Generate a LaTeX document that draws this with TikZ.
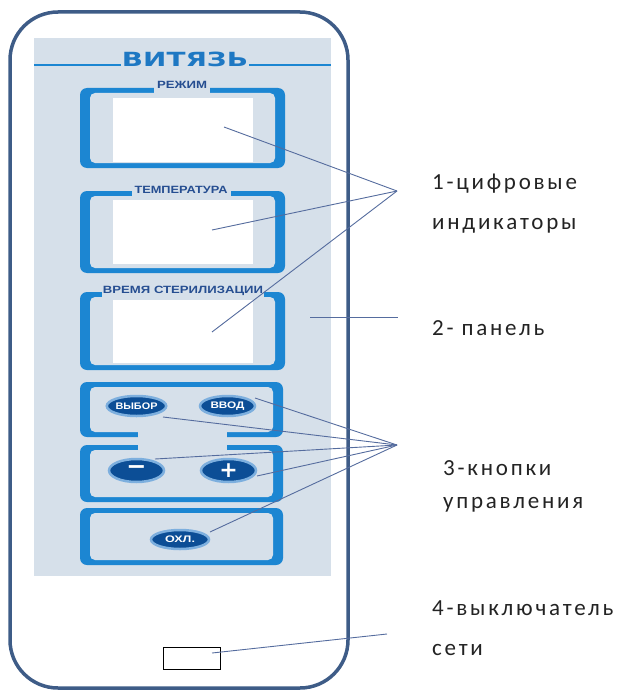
\documentclass[tikz,border=0pt]{standalone}
\usepackage{fontspec}
\usepackage{graphicx}
\usetikzlibrary{shapes.geometric}
\setmainfont{Carlito}
\newfontfamily\lblfont[LetterSpace=12]{Carlito}
\newfontfamily\boldsans{DejaVu Sans}
\newfontfamily\arialb{Liberation Sans}
\definecolor{outerc}{RGB}{62,92,135}
\definecolor{panelc}{RGB}{214,224,234}
\definecolor{fblue}{RGB}{28,134,210}
\definecolor{titlec}{RGB}{30,120,195}
\definecolor{capc}{RGB}{38,78,145}
\definecolor{btnc}{RGB}{12,78,150}
\definecolor{haloc}{RGB}{125,175,222}
\definecolor{leadc}{RGB}{85,108,158}
\definecolor{txtc}{RGB}{35,35,35}
\newcommand\panelframe[4]{%
  \fill[fblue, rounded corners=7pt] (#1,#2) rectangle (#3,#4);
  \fill[panelc, rounded corners=5pt] (#1+10,#2+5) rectangle (#3-10,#4-5);}
\begin{document}
\begin{tikzpicture}[x=1pt,y=-1pt,
  lbl/.style={font=\lblfont\fontsize{23}{23}\selectfont, text=txtc, inner sep=0pt, anchor=base west},
  framecap/.style={font=\arialb\bfseries\fontsize{10.5}{10.5}\selectfont, text=capc, fill=panelc, inner xsep=3pt, inner ysep=4pt, anchor=base},
  screen/.style={fill=white, inner sep=0pt, minimum width=140pt},
  btn/.style={ellipse, fill=btnc, draw=haloc, line width=2.5pt, inner sep=0pt, minimum width=55pt, minimum height=20pt, text=white, font=\arialb\bfseries\fontsize{9.5}{9.5}\selectfont},
  lead/.style={leadc, line width=0.9pt}]
\useasboundingbox (0,0) rectangle (622,690);
% housing
\draw[outerc, line width=3.5pt, rounded corners=48pt] (10,12) rectangle (348,688);
% panel
\fill[panelc] (34,38) rectangle (331,576);
\draw[fblue, line width=2pt] (34,65) -- (331,65);
\node[fill=panelc, inner sep=1pt, text=titlec, font=\boldsans\bfseries\fontsize{19.5}{19.5}\selectfont] (title) at (185,59.5) {\resizebox{126pt}{\height}{ВИТЯЗЬ}};
% display frames
\panelframe{80}{88}{285}{168}
\panelframe{80}{191}{285}{273}
\panelframe{80}{292}{285}{370}
\node[screen, minimum height=64pt] (s1) at (183,130) {};
\node[screen, minimum height=64pt] (s2) at (183,232) {};
\node[screen, minimum height=63pt] (s3) at (183,331.5) {};
\node[framecap] (c1) at (182,89) {\resizebox{50pt}{\height}{РЕЖИМ}};
\node[framecap] (c2) at (181,193) {\resizebox{93pt}{\height}{ТЕМПЕРАТУРА}};
\node[framecap, inner xsep=1pt] (c3) at (183,293) {\resizebox{160pt}{\height}{ВРЕМЯ СТЕРИЛИЗАЦИИ}};
% button frames
\panelframe{80}{382}{283}{437}
\panelframe{80}{445}{283}{502}
\panelframe{80}{508}{283}{565}
\fill[panelc] (138,430) rectangle (227,452);
% buttons
\node[btn] (vybor) at (136.5,406) {\resizebox{42pt}{\height}{ВЫБОР}};
\node[btn] (vvod) at (227.5,406) {\resizebox{34pt}{\height}{ВВОД}};
\node[btn, minimum height=23pt, font=\boldsans\bfseries\fontsize{24}{24}\selectfont] (minus) at (136.5,470.5) {−};
\node[btn, minimum height=23pt, font=\boldsans\bfseries\fontsize{22}{22}\selectfont] (plus) at (228.5,470.5) {+};
\node[btn, minimum width=58pt, minimum height=19pt] (ohl) at (180,539.5) {\resizebox{30pt}{\height}{ОХЛ.}};
% switch
\node[draw=black, line width=0.8pt, fill=white, minimum width=57pt, minimum height=22pt, inner sep=0pt] (sw) at (191.5,658) {};
% leader coordinates
\coordinate (a1) at (397,191);
\coordinate (p1) at (224,127);
\coordinate (p2) at (212,230);
\coordinate (p3) at (212,332);
\coordinate (a2) at (398,317);
\coordinate (p4) at (310,317);
\coordinate (a3) at (397,445);
\coordinate (q1) at (255,398);
\coordinate (q2) at (163,417);
\coordinate (q3) at (155,459);
\coordinate (q4) at (257,476);
\coordinate (q5) at (210,532);
\coordinate (a4) at (387,634);
\coordinate (p5) at (212,653);
\draw[lead] (p1) -- (a1); \draw[lead] (p2) -- (a1); \draw[lead] (p3) -- (a1);
\draw[lead] (p4) -- (a2);
\draw[lead] (q1) -- (a3); \draw[lead] (q2) -- (a3); \draw[lead] (q3) -- (a3);
\draw[lead] (q4) -- (a3); \draw[lead] (q5) -- (a3);
\draw[lead] (p5) -- (a4);
% labels
\node[lbl] (t1a) at (432,189) {1-цифровые};
\node[lbl] (t1b) at (432,229) {индикаторы};
\node[lbl] (t2) at (432,335) {2- панель};
\node[lbl] (t3a) at (443,475) {3-кнопки};
\node[lbl] (t3b) at (443,508) {управления};
\node[lbl] (t4a) at (432,615) {4-выключатель};
\node[lbl] (t4b) at (432,655) {сети};
\end{tikzpicture}
\end{document}
